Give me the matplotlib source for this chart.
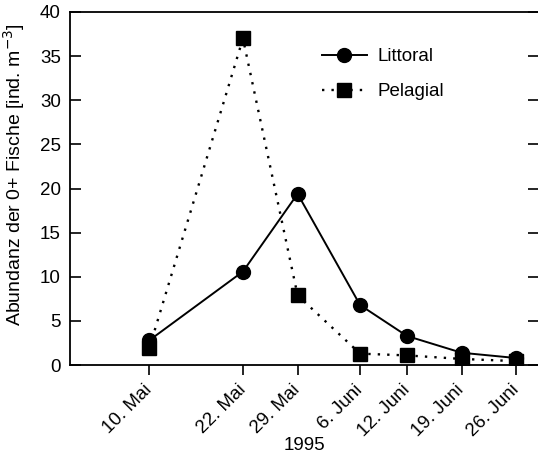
import numpy as np
import pandas as pd
import matplotlib
matplotlib.use('Agg')
from matplotlib import pyplot as plt

plt.rcParams['font.family'] = ['Liberation Sans', 'DejaVu Sans']

dates = pd.to_datetime(['1995-05-10', '1995-05-22', '1995-05-29', '1995-06-06',
                        '1995-06-12', '1995-06-19', '1995-06-26'])
date_labels = ['10. Mai', '22. Mai', '29. Mai', '6. Juni', '12. Juni', '19. Juni', '26. Juni']
littoral = [2.8, 10.6, 19.4, 6.8, 3.3, 1.4, 0.8]
pelagial = [1.9, 37.0, 7.9, 1.3, 1.1, 0.7, 0.45]


def main():
    fs = 13.5
    fig = plt.figure(figsize=(5.38, 4.61), dpi=100)
    ax = fig.add_axes([0.131, 0.208, 0.871, 0.766])

    ax.plot(dates, littoral, '-o', color='black', lw=1.4, ms=10, label='Littoral')
    ax.plot(dates, pelagial, 's', linestyle=(0, (1, 3)), color='black', lw=1.7, ms=9.5,
            label='Pelagial')

    ax.set_ylim(0, 40)
    ax.set_yticks(np.arange(0, 41, 5))
    ax.set_xlim(pd.Timestamp('1995-04-29 22:00'), pd.Timestamp('1995-06-28 22:00'))
    ax.set_xticks(dates)
    ax.set_xticklabels(date_labels, rotation=45, ha='right', va='center',
                       rotation_mode='anchor')

    ax.tick_params(axis='y', direction='in', length=8, width=1.2, labelsize=fs,
                   right=True, pad=7)
    ax.tick_params(axis='x', direction='out', length=7, width=1.2, labelsize=fs, pad=9)
    for s in ax.spines.values():
        s.set_linewidth(1.3)

    ax.set_ylabel('Abundanz der 0+ Fische [ind. m$^{-3}$]', fontsize=14)
    ax.yaxis.set_label_coords(-0.093, 0.54)
    ax.set_xlabel('1995', fontsize=fs, labelpad=-2)

    ax.legend(loc='upper left', bbox_to_anchor=(0.50, 0.945), frameon=False, fontsize=fs,
              handlelength=2.4, labelspacing=0.95, handletextpad=0.6)

    fig.savefig('out.png', dpi=100)


if __name__ == "__main__":
    main()
